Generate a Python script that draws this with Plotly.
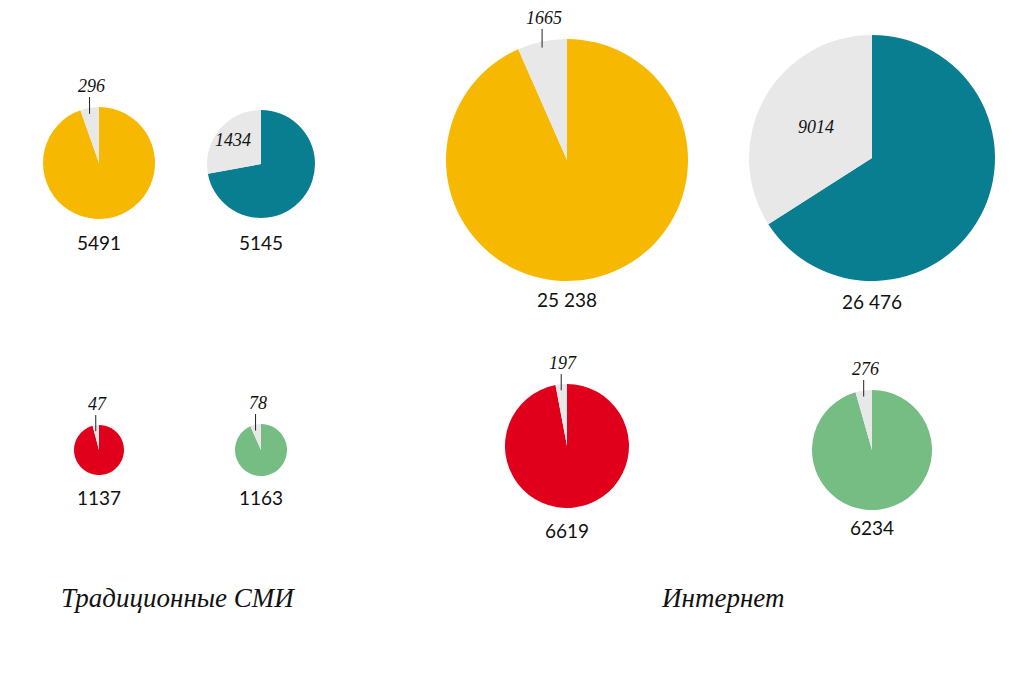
import math
import plotly.graph_objects as go

# ---- data ----
groups = ["Традиционные СМИ", "Традиционные СМИ", "Интернет", "Интернет",
          "Традиционные СМИ", "Традиционные СМИ", "Интернет", "Интернет"]
totals = [5491, 5145, 25238, 26476, 1137, 1163, 6619, 6234]
total_labels = ["5491", "5145", "25 238", "26 476", "1137", "1163", "6619", "6234"]
grey_values = [296, 1434, 1665, 9014, 47, 78, 197, 276]
colors = ["#F6B800", "#097E90", "#F6B800", "#097E90",
          "#E1001B", "#76BD84", "#E1001B", "#76BD84"]
grey_color = "#E8E8E8"
inside_label = [False, True, False, True, False, False, False, False]

# ---- layout geometry (pixels in the browser window) ----
W, H = 1024, 675
OFF = 8  # default page body margin
centers = [(99, 163), (261, 164), (567, 160), (872, 158),
           (99, 450), (261, 450), (567, 446), (872, 450)]
radii = [56, 54, 121, 123, 25, 26, 62, 60]
label_y = [242, 242, 299, 302, 497, 497, 530, 527]
inside_r = [0, 0.68, 0, 0.52, 0, 0, 0, 0]

fig = go.Figure()
annotations = []
shapes = []

def px(x):
    return (x - OFF) / W

def py(y):
    return 1 - (y - OFF) / H

for i in range(len(totals)):
    cx, cy = centers[i]
    r = radii[i]
    colored = totals[i] - grey_values[i]
    fig.add_trace(go.Pie(
        values=[colored, grey_values[i]],
        labels=["main", "grey"],
        marker=dict(colors=[colors[i], grey_color], line=dict(width=0)),
        sort=False, direction="clockwise", rotation=0,
        textinfo="none", hoverinfo="value", showlegend=False,
        domain=dict(x=[px(cx - r), px(cx + r)], y=[py(cy + r), py(cy - r)]),
    ))
    # total label below
    annotations.append(dict(
        x=px(cx), y=py(label_y[i]), xref="paper", yref="paper",
        text=total_labels[i], showarrow=False,
        font=dict(family="Lato", size=19, color="#111111"),
        xanchor="center", yanchor="middle"))
    frac = grey_values[i] / totals[i]
    mid = -math.pi * frac  # middle of grey slice (from 12 o'clock, negative = left)
    if inside_label[i]:
        rr = r * inside_r[i]
        lx = cx + rr * math.sin(mid)
        ly = cy - rr * math.cos(mid)
        annotations.append(dict(
            x=px(lx), y=py(ly), xref="paper", yref="paper",
            text="<i>%d</i>" % grey_values[i], showarrow=False,
            font=dict(family="Liberation Serif", size=18, color="#111111"),
            xanchor="center", yanchor="middle"))
    else:
        lx = cx + r * math.sin(mid)
        y_in = cy - r * math.cos(mid) + 6
        y_out = cy - r - 10
        shapes.append(dict(type="line", xref="paper", yref="paper",
                           x0=px(lx), x1=px(lx), y0=py(y_in), y1=py(y_out),
                           line=dict(color="#222222", width=1)))
        annotations.append(dict(
            x=px(lx + 2), y=py(y_out - 11), xref="paper", yref="paper",
            text="<i>%d</i>" % grey_values[i], showarrow=False,
            font=dict(family="Liberation Serif", size=18, color="#111111"),
            xanchor="center", yanchor="middle"))

# group titles
annotations.append(dict(x=px(178), y=py(598), xref="paper", yref="paper",
                        text="<i>Традиционные СМИ</i>", showarrow=False,
                        font=dict(family="Liberation Serif", size=27, color="#111111"),
                        xanchor="center", yanchor="middle"))
annotations.append(dict(x=px(722), y=py(598), xref="paper", yref="paper",
                        text="<i>Интернет</i>", showarrow=False,
                        font=dict(family="Liberation Serif", size=27, color="#111111"),
                        xanchor="center", yanchor="middle"))

fig.update_layout(
    width=W, height=H,
    margin=dict(l=0, r=0, t=0, b=0),
    paper_bgcolor="white", plot_bgcolor="white",
    annotations=annotations, shapes=shapes,
)

fig.write_html("out.html")
